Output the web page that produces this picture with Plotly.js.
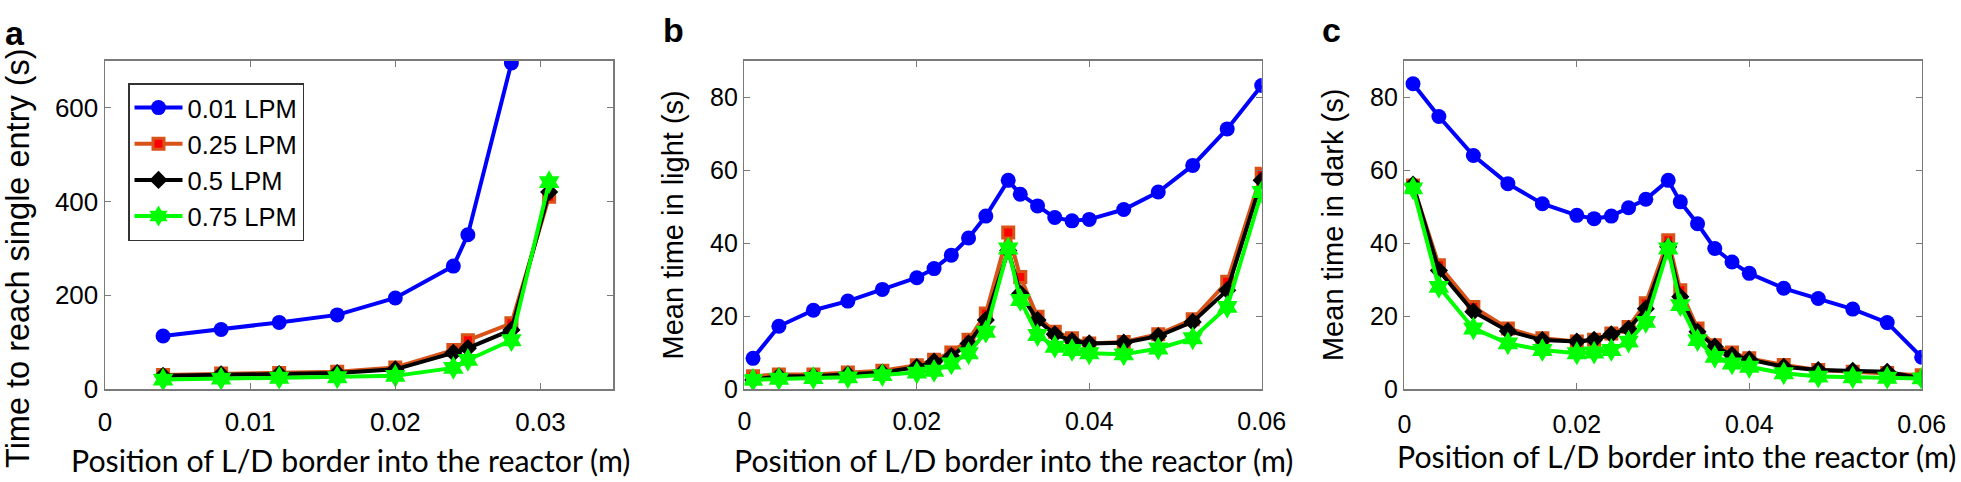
<!DOCTYPE html>
<html>
<head>
<meta charset="utf-8">
<script src="https://cdn.plot.ly/plotly-3.0.1.min.js"></script>
<style>html,body{margin:0;padding:0;background:#fff;}#chart{width:1961px;height:482px;}</style>
</head>
<body>
<div id="chart"></div>
<script>
// ---------- Data ----------
const seriesNames = ['0.01 LPM', '0.25 LPM', '0.5 LPM', '0.75 LPM'];

// Panel a: time to reach single entry (s)
const xA = [0.004, 0.008, 0.012, 0.016, 0.020, 0.024, 0.025, 0.028, 0.0306];
const a001 = [113, 127, 142, 158, 194, 262, 329, 695];
const a025 = [30, 33, 34, 37, 46, 83, 104, 140, 410];
const a05  = [28, 31, 32, 34, 42, 77, 87, 126, 420];
const a075 = [20, 22, 24, 25, 28, 45, 62, 104, 441];

// Panels b and c: positions
const xBC = [0.001, 0.004, 0.008, 0.012, 0.016, 0.020, 0.022, 0.024, 0.026, 0.028, 0.0306,
             0.032, 0.034, 0.036, 0.038, 0.040, 0.044, 0.048, 0.052, 0.056, 0.060];

// Panel b: mean time in light (s)
const b001 = [8.4, 17.2, 21.6, 24.1, 27.3, 30.5, 33.0, 36.7, 41.4, 47.4, 57.2, 53.4, 50.2, 47.0, 46.1, 46.5, 49.2, 54.0, 61.3, 71.3, 83.2];
const b025 = [3.5, 4.0, 4.0, 4.5, 5.0, 6.5, 8.0, 10.0, 13.5, 20.7, 42.9, 30.7, 19.8, 15.7, 13.9, 12.5, 12.9, 15.0, 19.1, 29.4, 59.0];
const b05  = [2.5, 3.5, 3.5, 4.0, 4.5, 6.0, 7.5, 9.0, 12.5, 18.9, 38.0, 26.2, 18.9, 15.0, 13.2, 12.5, 12.7, 14.5, 18.4, 27.1, 57.2];
const b075 = [2.5, 2.8, 3.0, 3.2, 3.8, 4.5, 5.0, 7.0, 9.8, 15.7, 38.5, 24.4, 14.8, 11.6, 10.7, 9.8, 9.5, 11.1, 13.9, 22.5, 54.0];

// Panel c: mean time in dark (s)
const c001 = [83.7, 74.7, 64.0, 56.3, 50.8, 47.6, 46.7, 47.4, 49.7, 52.0, 57.2, 51.3, 45.3, 38.5, 34.8, 31.7, 27.6, 24.8, 21.9, 18.2, 8.7];
const c025 = [55.8, 33.9, 22.5, 16.6, 13.9, 13.0, 13.5, 15.2, 17.0, 23.5, 40.8, 27.1, 16.6, 12.0, 10.0, 8.4, 6.6, 5.2, 4.7, 4.4, 3.8];
const c05  = [56.0, 32.5, 21.2, 15.9, 13.4, 13.0, 13.5, 15.0, 16.5, 22.0, 39.0, 25.3, 15.7, 11.6, 9.3, 8.1, 6.1, 5.2, 5.0, 4.7, 2.9];
const c075 = [55.0, 28.0, 16.6, 12.5, 10.7, 9.8, 10.0, 10.7, 13.0, 18.4, 38.5, 23.0, 13.4, 8.8, 7.0, 6.1, 4.3, 3.4, 3.2, 3.1, 2.9];

const xTitle = 'Position of L/D border into the reactor (m)';
const yTitles = ['Time to reach single entry (s)', 'Mean time in light (s)', 'Mean time in dark (s)'];
const panelLabels = ['a', 'b', 'c'];

// ---------- Styles ----------
const styles = [
  {line: {color: '#0000FF', width: 4}, marker: {symbol: 'circle', size: 15, color: '#0000FF'}},
  {line: {color: '#D95319', width: 4}, marker: {symbol: 'square', size: 11, color: '#FF0000', line: {color: '#D95319', width: 3}}},
  {line: {color: '#000000', width: 4}, marker: {symbol: 'diamond', size: 14, color: '#000000'}},
  {line: {color: '#00FF00', width: 4}, marker: {symbol: 'hexagram', size: 18, color: '#00FF00'}}
];

const panels = [
  {x: xA, ys: [a001, a025, a05, a075], xa: 'x', ya: 'y'},
  {x: xBC, ys: [b001, b025, b05, b075], xa: 'x2', ya: 'y2'},
  {x: xBC, ys: [c001, c025, c05, c075], xa: 'x3', ya: 'y3'}
];

const traces = [];
panels.forEach((p, pi) => {
  p.ys.forEach((ys, si) => {
    traces.push({
      type: 'scatter', mode: 'lines+markers',
      x: p.x.slice(0, ys.length), y: ys,
      xaxis: p.xa, yaxis: p.ya,
      name: seriesNames[si],
      showlegend: pi === 0,
      line: styles[si].line, marker: styles[si].marker
    });
  });
});
// empty traces that only attach the inside-tick overlay x axes
['x4', 'x5', 'x6'].forEach((xa, i) => {
  traces.push({type: 'scatter', mode: 'markers', x: [], y: [], xaxis: xa, yaxis: ['y', 'y2', 'y3'][i],
               showlegend: false, hoverinfo: 'skip'});
});

const W = 1961, H = 482;
const arial = 'Liberation Sans, Arial, sans-serif';
const cal = 'Lato, Open Sans, sans-serif';
const frame = '#7a7a7a';

// main x axis: carries the labels, pushed down by transparent outside ticks
function xaxisMain(px0, px1, range, dtick, tickSize, labelGap, anchor) {
  return {
    domain: [px0 / W, px1 / W], range: range, dtick: dtick, tick0: 0, anchor: anchor,
    showline: true, linecolor: frame, linewidth: 1.5, mirror: true,
    ticks: 'outside', ticklen: labelGap, tickcolor: 'rgba(0,0,0,0)', tickwidth: 1,
    showgrid: false, zeroline: false, automargin: false,
    tickfont: {family: arial, size: tickSize, color: '#000'}
  };
}
// overlay x axis: the visible inside ticks (bottom and top)
function xaxisTicks(over, anchor, range, dtick) {
  return {
    overlaying: over, anchor: anchor, range: range, dtick: dtick, tick0: 0,
    showline: false, mirror: 'ticks',
    ticks: 'inside', ticklen: 6, tickcolor: frame, tickwidth: 1,
    showticklabels: false, showgrid: false, zeroline: false, automargin: false
  };
}
function yaxis(anchor, range, dtick, tickSize, title, titleSize, standoff) {
  const ax = {
    domain: [1 - 389 / H, 1 - 60.7 / H], range: range, dtick: dtick, tick0: 0, anchor: anchor,
    showline: true, linecolor: frame, linewidth: 1.5, mirror: 'ticks',
    ticks: 'inside', ticklen: 6, tickcolor: frame, tickwidth: 1,
    showgrid: false, zeroline: false, automargin: false,
    tickfont: {family: arial, size: tickSize, color: '#000'}
  };
  if (title) ax.title = {text: title, font: {family: arial, size: titleSize, color: '#000'}, standoff: standoff};
  return ax;
}

// annotations: panel letters, x-axis titles, panel a y-axis title
const annotations = panelLabels.map((t, i) => ({
  text: '<b>' + t + '</b>', xref: 'paper', yref: 'paper',
  x: [3, 661, 1320][i] / W, y: 1 - [12, 9, 9][i] / H, xanchor: 'left', yanchor: 'top',
  showarrow: false, font: {family: arial, size: 34, color: '#000'}
}));
[[350.5, 460], [1014, 460], [1676, 456]].forEach(([cx, cy]) => {
  annotations.push({
    text: xTitle, xref: 'paper', yref: 'paper', x: cx / W, y: 1 - cy / H,
    xanchor: 'center', yanchor: 'middle', showarrow: false,
    font: {family: cal, size: 30.3, color: '#000'}
  });
});
annotations.push({
  text: yTitles[0], xref: 'paper', yref: 'paper', x: 18 / W, y: 1 - 258 / H,
  xanchor: 'center', yanchor: 'middle', textangle: -90, showarrow: false,
  font: {family: arial, size: 32.5, color: '#000'}
});

const layout = {
  width: W, height: H,
  margin: {l: 0, r: 0, t: 0, b: 0},
  paper_bgcolor: '#fff', plot_bgcolor: '#fff',
  showlegend: true,
  legend: {
    x: 128 / W, y: 1 - 83 / H, xanchor: 'left', yanchor: 'top',
    bordercolor: '#333', borderwidth: 1.5, bgcolor: '#fff',
    font: {family: arial, size: 25.5, color: '#000'},
    itemwidth: 48, tracegroupgap: 0
  },
  xaxis: xaxisMain(105, 613, [0, 0.035], 0.01, 26, 9, 'y'),
  yaxis: yaxis('x', [0, 700], 200, 26, null),
  xaxis2: xaxisMain(744.4, 1261.7, [0, 0.06], 0.02, 25, 9, 'y2'),
  yaxis2: yaxis('x2', [0, 90], 20, 25, yTitles[1], 29, 18),
  xaxis3: xaxisMain(1404.4, 1921.7, [0, 0.06], 0.02, 25, 12, 'y3'),
  yaxis3: yaxis('x3', [0, 90], 20, 25, yTitles[2], 29, 18),
  xaxis4: xaxisTicks('x', 'y', [0, 0.035], 0.01),
  xaxis5: xaxisTicks('x2', 'y2', [0, 0.06], 0.02),
  xaxis6: xaxisTicks('x3', 'y3', [0, 0.06], 0.02),
  annotations: annotations
};

Plotly.newPlot('chart', traces, layout, {staticPlot: true, displayModeBar: false});
</script>
</body>
</html>
